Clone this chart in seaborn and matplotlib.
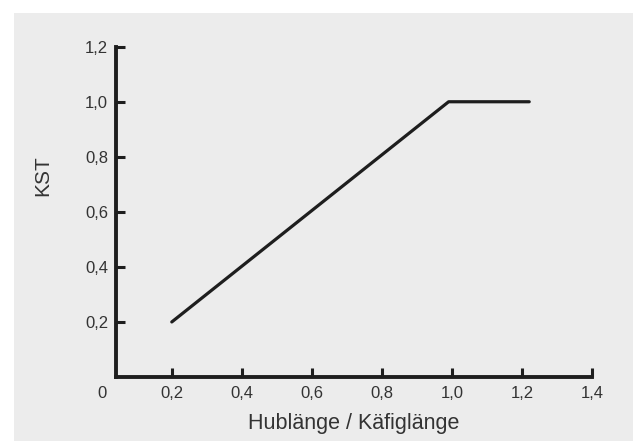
import matplotlib
matplotlib.use('Agg')
import matplotlib.pyplot as plt
import seaborn as sns
from matplotlib.patches import Rectangle

# Daten: KST über Hublänge / Käfiglänge
hub_ratio = [0.2, 0.99, 1.22]
kst = [0.2, 1.0, 1.0]

x_ticks = [0, 0.2, 0.4, 0.6, 0.8, 1.0, 1.2, 1.4]
x_labels = ['0', '0,2', '0,4', '0,6', '0,8', '1,0', '1,2', '1,4']
y_ticks = [0.2, 0.4, 0.6, 0.8, 1.0, 1.2]
y_labels = ['0,2', '0,4', '0,6', '0,8', '1,0', '1,2']

sns.set_style('white')
plt.rcParams['font.family'] = ['Liberation Sans', 'DejaVu Sans']

W, H = 633, 441
fig = plt.figure(figsize=(W / 100, H / 100), dpi=100, facecolor='white')
# grauer Hintergrundkasten
fig.patches.append(Rectangle((14 / W, 0), 1, 1 - 13 / H,
                             transform=fig.transFigure, facecolor='#ececec',
                             edgecolor='none', zorder=-10))

ax = fig.add_axes([101.7 / W, 1 - 377 / H, (592.3 - 101.7) / W, (377 - 46.7) / H])
ax.set_facecolor('none')

sns.lineplot(x=hub_ratio, y=kst, ax=ax, color='#1e1e1e', linewidth=2.3)

ax.set_xlim(0, 1.4)
ax.set_ylim(0, 1.2)
ax.spines['top'].set_visible(False)
ax.spines['right'].set_visible(False)
for s in ['left', 'bottom']:
    ax.spines[s].set_linewidth(2.8)
    ax.spines[s].set_color('#1e1e1e')
ax.spines['left'].set_position(('data', 0.04))
ax.spines['bottom'].set_bounds(0.04, 1.4)

ax.set_xticks(x_ticks)
ax.set_xticklabels(x_labels)
ax.set_yticks(y_ticks)
ax.set_yticklabels(y_labels)
ax.tick_params(axis='both', direction='in', length=6.5, width=2.2, color='#1e1e1e',
               labelsize=12, labelcolor='#333333', bottom=True, left=True)
ax.tick_params(axis='x', pad=6.5)
ax.tick_params(axis='y', pad=5.5)
ax.xaxis.get_major_ticks()[0].tick1line.set_visible(False)

ax.set_xlabel('Hublänge / Käfiglänge', fontsize=15.5, color='#333333')
ax.xaxis.set_label_coords((354 - 101.7) / (592.3 - 101.7), -(413 - 377) / (377 - 46.7))
ax.set_ylabel('KST', fontsize=15, color='#333333')
ax.yaxis.set_label_coords(-(101.7 - 52) / (592.3 - 101.7), (377 - 176) / (377 - 46.7))

fig.savefig('out.png', dpi=100, facecolor='white')
